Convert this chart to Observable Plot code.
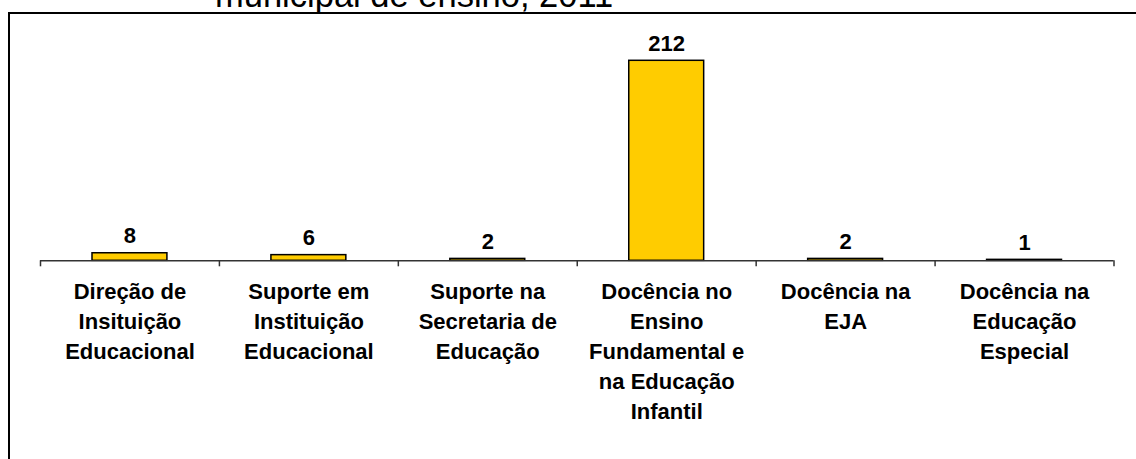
<!DOCTYPE html>
<html>
<head>
<meta charset="utf-8">
<script src="https://cdn.jsdelivr.net/npm/d3@7"></script>
<script src="https://cdn.jsdelivr.net/npm/@observablehq/plot@0.6"></script>
<style>
  html, body { margin: 0; padding: 0; background: #fff; }
  #wrap { position: relative; width: 1136px; height: 459px; overflow: hidden; background: #fff; }
  #title { position: absolute; left: 215px; top: -22px; font: 34.5px/34.5px "Liberation Sans", Arial, sans-serif; color: #000; white-space: nowrap; }
  #frame { position: absolute; left: 8px; top: 12px; width: 2000px; height: 2000px; border: 2px solid #000; box-sizing: border-box; }
  #chart { position: absolute; left: 0; top: 0; }
</style>
</head>
<body>
<div id="wrap">
  <div id="title">municipal de ensino, 2011</div>
  <div id="frame"></div>
  <div id="chart"></div>
</div>
<script>
const categories = [
  "Direção de\nInsituição\nEducacional",
  "Suporte em\nInstituição\nEducacional",
  "Suporte na\nSecretaria de\nEducação",
  "Docência no\nEnsino\nFundamental e\nna Educação\nInfantil",
  "Docência na\nEJA",
  "Docência na\nEducação\nEspecial"
];
const values = [8, 6, 2, 212, 2, 1];
const boundaries = [0, 1, 2, 3, 4, 5, 6];

const data = categories.map((c, i) => ({i, category: c, value: values[i]}));

const baseY = 260.3, topY = 60.3;
const pxPerUnit = (baseY - topY) / 212;
const tickLen = 6 / pxPerUnit;

const chart = Plot.plot({
  width: 1136,
  height: 459,
  marginLeft: 40,
  marginRight: 22.5,
  marginTop: 0,
  marginBottom: 0,
  x: {domain: [0, categories.length], axis: null},
  y: {domain: [0, 212], range: [baseY, topY], axis: null},
  style: {fontFamily: "'Liberation Sans', Arial, sans-serif", background: "transparent", overflow: "visible"},
  marks: [
    Plot.rectY(data, {x1: "i", x2: d => d.i + 1, y: "value", insetLeft: 52, insetRight: 52, fill: "#FFCC00", stroke: "#000", strokeWidth: 1.5}),
    Plot.ruleY([0], {stroke: "#333", strokeWidth: 1.5}),
    Plot.ruleX(boundaries, {x: d => d, y1: 0, y2: -tickLen, stroke: "#333", strokeWidth: 1.5}),
    Plot.text(data, {x: d => d.i + 0.5, y: "value", text: d => String(d.value), dy: -17, fontSize: 22, fontWeight: "bold", fill: "#000"}),
    Plot.text(data, {x: d => d.i + 0.5, y: 0, text: "category", lineAnchor: "top", dy: 17, lineHeight: 1.364, fontSize: 22, fontWeight: "bold", fill: "#000"})
  ]
});
document.getElementById("chart").appendChild(chart);
</script>
</body>
</html>
